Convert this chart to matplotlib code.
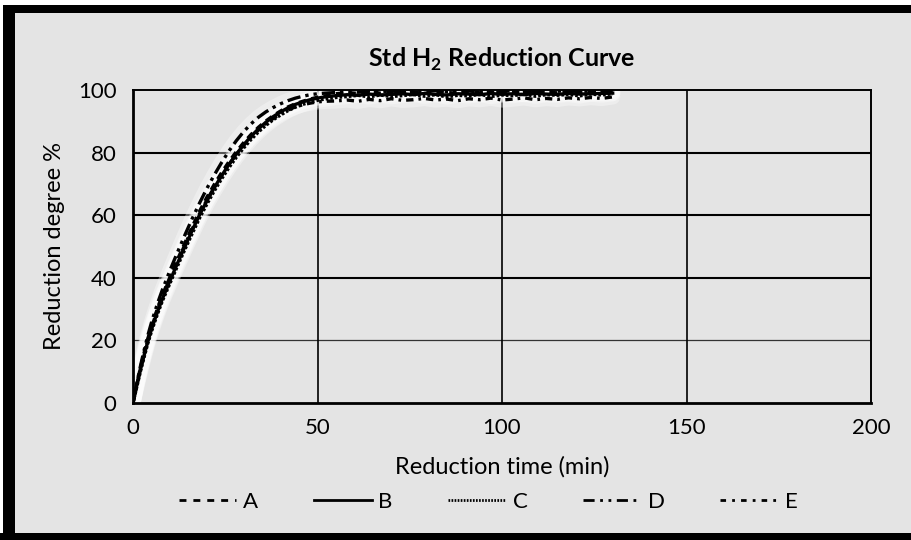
import matplotlib
matplotlib.use("Agg")
import matplotlib.pyplot as plt
from matplotlib.patches import Rectangle
from matplotlib.lines import Line2D

plt.rcParams['font.family'] = ['Lato', 'DejaVu Sans']
plt.rcParams['mathtext.fontset'] = 'custom'
plt.rcParams['mathtext.rm'] = 'Lato'
plt.rcParams['mathtext.bf'] = 'Lato:bold'

# ---------------- data ----------------
time_min = [0, 1, 2, 3, 4, 5, 6, 7, 8,
            10, 12, 14, 16, 18, 20, 22, 24, 26, 28, 30, 32, 34, 36, 38, 40, 42, 44, 46, 48, 50,
            52,
            55, 58, 61, 64, 67, 70, 73, 76, 79, 82, 85, 88, 91, 94, 97, 100, 103, 106, 109, 112,
            115, 118, 121, 124, 127, 130]

series_A = [0, 6, 11.2, 16, 20.5, 24.5, 28, 31.5, 34.6,
            40.2, 45.7, 51, 56.2, 61.2, 65.7, 69.8, 73.6, 77.1, 80.3, 83.2, 85.8, 88.1, 90.1, 91.8, 93.3, 94.6,
            95.6, 96.4, 97.1, 97.7,
            98.1,
            98.8, 99.2, 98.9, 99.4, 99.0, 99.5, 99.1, 99.3, 98.9, 99.5, 99.2, 99.0, 99.6, 99.1, 99.4, 99.0, 99.5,
            99.2, 99.6, 99.3, 99.1, 99.5, 99.3, 99.6, 99.2, 99.4]

series_B = [0, 5.5, 10.5, 15.2, 19.6, 23.5, 27, 30.3, 33.4,
            39, 44.5, 49.8, 55, 60, 64.5, 68.7, 72.6, 76.2, 79.5, 82.5, 85.2, 87.6, 89.7, 91.5, 93, 94.3,
            95.4, 96.2, 96.9, 97.4,
            97.8,
            98.2, 98.5, 98.3, 98.7, 98.4, 98.6, 98.8, 98.5, 98.9, 98.6, 98.4, 98.8, 98.7, 98.5, 98.9, 98.6, 98.8,
            98.5, 98.9, 98.7, 98.6, 98.9, 98.7, 98.8, 98.9, 99.0]

series_C = [0, 5, 10, 14.6, 19, 22.8, 26.3, 29.6, 32.7,
            38.2, 43.6, 48.9, 54, 59, 63.5, 67.7, 71.6, 75.2, 78.5, 81.5, 84.2, 86.6, 88.7, 90.5, 92, 93.4,
            94.5, 95.4, 96.1, 96.7,
            97.1,
            97.6, 97.9, 98.3, 97.8, 98.4, 97.9, 98.2, 98.6, 98.0, 98.5, 97.8, 98.3, 98.1, 98.6, 97.9, 98.4, 98.2,
            98.7, 98.0, 98.5, 98.3, 98.6, 98.1, 98.7, 98.4, 98.8]

series_D = [0, 6.2, 11.7, 16.8, 21.5, 25.7, 29.5, 33, 36.3,
            42.3, 48, 53.5, 58.8, 63.8, 68.5, 72.8, 76.8, 80.5, 83.8, 86.7, 89.2, 91.3, 93, 94.4, 95.6, 96.6,
            97.4, 98, 98.5, 98.8,
            99.0,
            99.2, 99.5, 99.3, 99.6, 99.4, 99.7, 99.3, 99.6, 99.5, 99.8, 99.4, 99.6, 99.7, 99.3, 99.6, 99.5, 99.8,
            99.4, 99.7, 99.5, 99.6, 99.8, 99.5, 99.7, 99.6, 99.9]

series_E = [0, 5.6, 10.8, 15.6, 20, 24, 27.6, 31, 34.1,
            39.8, 45.2, 50.4, 55.5, 60.4, 64.8, 68.9, 72.7, 76.2, 79.4, 82.3, 84.9, 87.2, 89.2, 90.9, 92.4, 93.6,
            94.6, 95.3, 95.8, 96.2,
            96.4,
            96.5, 96.8, 96.4, 97.0, 96.6, 97.2, 96.7, 96.9, 97.3, 96.8, 97.1, 96.6, 97.2, 96.9, 97.4, 96.8, 97.1,
            97.5, 96.9, 97.3, 97.0, 97.5, 97.2, 97.6, 97.3, 97.8]

labels = ["A", "B", "C", "D", "E"]
x_ticks = [0, 50, 100, 150, 200]
y_ticks = [0, 20, 40, 60, 80, 100]

# ---------------- styling ----------------
styles = {
    "A": (0, (2.2, 1.6)),
    "B": "-",
    "C": (0, (0.8, 0.6)),
    "D": (0, (4, 1.5, 1, 1.5, 1, 1.5)),
    "E": (0, (2.2, 1.5, 0.8, 1.5)),
}
legend_styles = {
    "A": (0, (2.5, 2.5)),
    "B": "-",
    "C": (0, (0.6, 0.5)),
    "D": (0, (4, 2, 1, 2, 1, 2)),
    "E": (0, (2, 2.2, 1, 2.2)),
}
bg = "#e4e4e4"

W, H = 911, 540
fig = plt.figure(figsize=(W / 100, H / 100), dpi=100, facecolor=bg)

# frame
fig.patches.append(Rectangle((0, 1 - 5 / H), 1, 5 / H, transform=fig.transFigure,
                             facecolor="white", edgecolor="none", zorder=0))
fig.patches.append(Rectangle((0, 0), 3 / W, 1, transform=fig.transFigure,
                             facecolor="white", edgecolor="none", zorder=0))
fig.patches.append(Rectangle((3 / W, 1 - 13 / H), 1, 8 / H, transform=fig.transFigure,
                             facecolor="black", edgecolor="none", zorder=1))
fig.patches.append(Rectangle((3 / W, 0), 12 / W, 1 - 5 / H, transform=fig.transFigure,
                             facecolor="black", edgecolor="none", zorder=1))
fig.patches.append(Rectangle((0, 0), 1, 7 / H, transform=fig.transFigure,
                             facecolor="black", edgecolor="none", zorder=1))

ax = fig.add_axes([133 / W, 1 - 403 / H, (871 - 133) / W, (403 - 90) / H])
ax.set_facecolor(bg)

data = {"A": series_A, "B": series_B, "C": series_C, "D": series_D, "E": series_E}

# soft white halo behind the curves
for lab in labels:
    ax.plot(time_min, data[lab], color="white", lw=11, alpha=0.35,
            solid_capstyle="round", zorder=2)
for lab in labels:
    ax.plot(time_min, data[lab], color="black", lw=2.4, linestyle=styles[lab], zorder=3)

ax.set_xlim(0, 200)
ax.set_ylim(0, 100)
ax.set_xticks(x_ticks)
ax.set_yticks(y_ticks)
ax.tick_params(length=0, labelsize=16, pad=11)
ax.tick_params(axis="y", pad=12)

# grid
for yv in [40, 60, 80]:
    ax.axhline(yv, color="black", lw=1.5, zorder=1)
ax.axhline(20, color="#333333", lw=0.9, zorder=1)
for xv in [50, 100, 150]:
    ax.axvline(xv, color="black", lw=1.2, zorder=1)

for side in ["top", "right"]:
    ax.spines[side].set_linewidth(1.4)
for side in ["left", "bottom"]:
    ax.spines[side].set_linewidth(2.0)

ax.set_title("Std H$_\\mathbf{2}$ Reduction Curve", fontsize=18, fontweight="bold", pad=17)
ax.set_xlabel("Reduction time (min)", fontsize=17, labelpad=13)
ax.set_ylabel("Reduction degree %", fontsize=17, labelpad=9)

handles = [Line2D([], [], color="black", lw=2, linestyle=legend_styles[l]) for l in labels]
fig.legend(handles, labels, loc="center", bbox_to_anchor=(488 / W, 1 - 502 / H),
           ncol=5, frameon=False, fontsize=16, handlelength=2.6, handletextpad=0.3,
           columnspacing=2.5)

fig.savefig("out.png", dpi=100, facecolor=bg)
